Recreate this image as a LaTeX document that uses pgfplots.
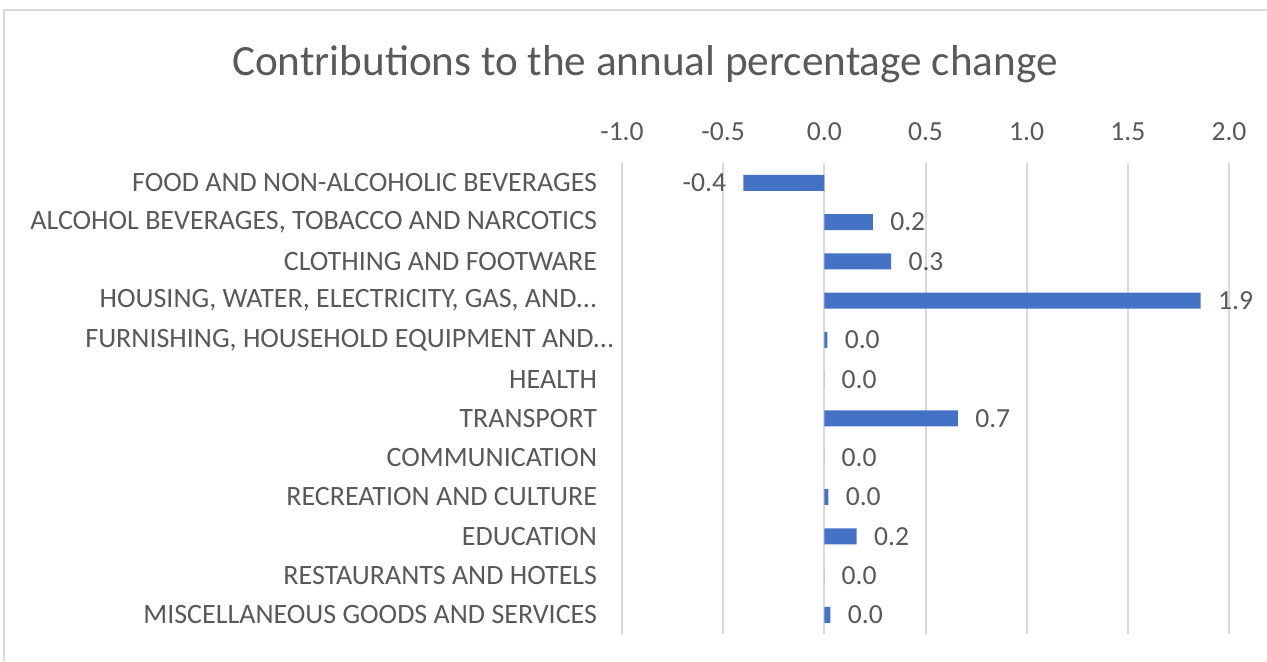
\documentclass[border=0pt]{standalone}
\usepackage{fontspec}
\setmainfont{Carlito}
\usepackage{pgfplots}
\pgfplotsset{compat=1.18}
\definecolor{txt}{HTML}{595959}
\definecolor{grid}{HTML}{D9D9D9}
\definecolor{bar}{HTML}{4472C4}
\begin{document}
\begin{tikzpicture}
\path[use as bounding box] (0,0) rectangle (633.5pt,330.5pt);
\draw[color=grid, line width=1pt] (2pt,0) -- (2pt,325.5pt) -- (634pt,325.5pt);
\node[anchor=base, text=txt, font=\fontsize{21.6}{25}\selectfont] at (322.5pt,293pt) {Contributions to the annual percentage change};
\begin{axis}[
  at={(311pt,13.3pt)}, anchor=south west,
  scale only axis, width=303.5pt, height=235.6pt,
  xbar, bar width=8pt, bar shift=0pt,
  xmin=-1, xmax=2, ymin=-0.5, ymax=11.5, y dir=reverse,
  xtick={-1,-0.5,0,0.5,1,1.5,2},
  ytick={0,1,2,3,4,5,6,7,8,9,10,11},
  yticklabels={{FOOD AND NON-ALCOHOLIC BEVERAGES}, {ALCOHOL BEVERAGES, TOBACCO AND NARCOTICS}, {CLOTHING AND FOOTWARE}, {HOUSING, WATER, ELECTRICITY, GAS, AND{...}}, {FURNISHING, HOUSEHOLD EQUIPMENT AND{...}\hspace*{-8.5pt}}, {HEALTH}, {TRANSPORT}, {COMMUNICATION}, {RECREATION AND CULTURE}, {EDUCATION}, {RESTAURANTS AND HOTELS}, {MISCELLANEOUS GOODS AND SERVICES}},
  xticklabel pos=upper,
  xmajorgrids, major grid style={color=grid, line width=1pt},
  axis line style={draw=none}, major tick style={draw=none},
  /pgf/number format/assume math mode=true,
  xticklabel={\pgfmathprintnumber[fixed,fixed zerofill,precision=1]{\tick}},
  xticklabel style={text=txt, font=\fontsize{13.8}{16}\selectfont, yshift=7.5pt},
  yticklabel style={text=txt, font=\fontsize{14}{16}\selectfont, anchor=east, inner sep=0pt, xshift=-8pt},
  nodes near coords={\pgfmathprintnumber[fixed,fixed zerofill,precision=1]{\pgfplotspointmeta}},
  nodes near coords style={text=txt, font=\fontsize{13.8}{16}\selectfont, inner xsep=8.5pt},
  point meta=x,
]
\addplot[fill=bar, draw=none] coordinates {
(-0.40,0) (0.24,1) (0.33,2) (1.86,3) (0.015,4) (0.0,5) (0.66,6) (0.0,7) (0.02,8) (0.16,9) (0.0,10) (0.03,11)
};
\end{axis}
\end{tikzpicture}
\end{document}
